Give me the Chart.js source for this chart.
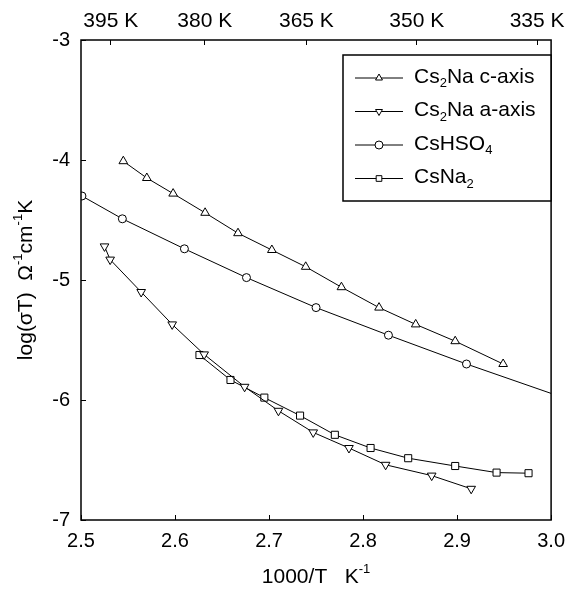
<!DOCTYPE html>
<html>
<head>
<meta charset="utf-8">
<script src="https://cdn.jsdelivr.net/npm/chart.js@4.4.0/dist/chart.umd.min.js"></script>
<style>
  html, body { margin: 0; background: #fff; }
</style>
</head>
<body>
<canvas id="chart" width="579" height="593"></canvas>
<script>
const FONT = "'Liberation Sans', Arial, Helvetica, sans-serif";

// data: x = 1000/T (K^-1), y = log(sigma T)
const cAxisX = [2.545, 2.570, 2.598, 2.632, 2.667, 2.703, 2.739, 2.777, 2.817, 2.856, 2.898, 2.949];
const cAxisY = [-4.01, -4.15, -4.28, -4.44, -4.61, -4.75, -4.89, -5.06, -5.23, -5.37, -5.51, -5.70];

const aAxisX = [2.525, 2.531, 2.564, 2.597, 2.631, 2.674, 2.710, 2.747, 2.785, 2.824, 2.873, 2.915];
const aAxisY = [-4.72, -4.83, -5.10, -5.37, -5.62, -5.89, -6.09, -6.27, -6.40, -6.54, -6.63, -6.74];

const hso4X = [2.501, 2.544, 2.610, 2.676, 2.750, 2.827, 2.910, 3.000];
const hso4Y = [-4.30, -4.49, -4.74, -4.98, -5.23, -5.46, -5.70, -5.945];

const csna2X = [2.626, 2.659, 2.695, 2.733, 2.770, 2.808, 2.848, 2.898, 2.942, 2.976];
const csna2Y = [-5.625, -5.833, -5.98, -6.13, -6.29, -6.40, -6.485, -6.55, -6.605, -6.61];

const seriesLabels = ["Cs_{2}Na c-axis", "Cs_{2}Na a-axis", "CsHSO_{4}", "CsNa_{2}"];
const bottomTicks = [2.5, 2.6, 2.7, 2.8, 2.9, 3.0];
const topTempsK = [395, 380, 365, 350, 335];
const yTicks = [-7, -6, -5, -4, -3];
const xTitle = "1000/T   K^{-1}";
const yTitle = "log(\u03C3T)  \u03A9^{-1}cm^{-1}K";

const pts = (xs, ys) => xs.map((x, i) => ({ x, y: ys[i] }));

// text with _{sub} and ^{sup} parts
function parseRich(s) {
  const parts = [];
  const re = /([_^])\{([^}]*)\}/g;
  let last = 0, m;
  while ((m = re.exec(s))) {
    if (m.index > last) parts.push({ t: s.slice(last, m.index), k: "" });
    parts.push({ t: m[2], k: m[1] });
    last = re.lastIndex;
  }
  if (last < s.length) parts.push({ t: s.slice(last), k: "" });
  return parts;
}

function drawRich(ctx, s, x, y, size, align) {
  const parts = parseRich(s);
  const small = Math.round(size * 0.62);
  const widths = parts.map(p => {
    ctx.font = (p.k ? small : size) + "px " + FONT;
    return ctx.measureText(p.t).width;
  });
  const total = widths.reduce((a, b) => a + b, 0);
  let cx = align === "center" ? x - total / 2 : x;
  ctx.textAlign = "left";
  ctx.textBaseline = "middle";
  ctx.fillStyle = "#000";
  parts.forEach((p, i) => {
    ctx.font = (p.k ? small : size) + "px " + FONT;
    const dy = p.k === "_" ? size * 0.32 : p.k === "^" ? -size * 0.36 : 0;
    ctx.fillText(p.t, cx, y + dy);
    cx += widths[i];
  });
}

const extras = {
  id: "extras",
  afterDraw(chart) {
    const { ctx, chartArea: a } = chart;
    ctx.save();

    // frame
    ctx.strokeStyle = "#000";
    ctx.lineWidth = 1.5;
    ctx.strokeRect(a.left, a.top, a.right - a.left, a.bottom - a.top);

    // axis titles
    drawRich(ctx, xTitle, (a.left + a.right) / 2, 577, 21, "center");
    ctx.save();
    ctx.translate(26, (a.top + a.bottom) / 2);
    ctx.rotate(-Math.PI / 2);
    drawRich(ctx, yTitle, 0, 0, 21, "center");
    ctx.restore();

    // legend box
    const L = { left: 343, top: 55, right: 551, bottom: 201 };
    ctx.fillStyle = "#fff";
    ctx.fillRect(L.left, L.top, L.right - L.left, L.bottom - L.top);
    ctx.lineWidth = 1.5;
    ctx.strokeStyle = "#000";
    ctx.strokeRect(L.left, L.top, L.right - L.left, L.bottom - L.top);

    chart.data.datasets.forEach((ds, i) => {
      const y = 78 + i * 33.5;
      ctx.lineWidth = 1;
      ctx.strokeStyle = "#000";
      ctx.beginPath();
      ctx.moveTo(355, y);
      ctx.lineTo(403, y);
      ctx.stroke();
      ctx.fillStyle = "#fff";
      Chart.helpers.drawPoint(ctx, {
        pointStyle: ds.pointStyle,
        rotation: ds.pointRotation || 0,
        radius: 4,
        borderWidth: 1
      }, 379, y);
      drawRich(ctx, ds.label, 414, y - 1, 21, "left");
    });
    ctx.restore();
  }
};

const lineDs = (label, data, style, rotation, radius) => ({
  label,
  data,
  showLine: true,
  borderColor: "#000",
  borderWidth: 1,
  tension: 0,
  pointStyle: style,
  pointRotation: rotation,
  pointRadius: radius,
  pointBackgroundColor: "#fff",
  pointBorderColor: "#000",
  pointBorderWidth: 1
});

new Chart(document.getElementById("chart"), {
  type: "scatter",
  data: {
    datasets: [
      lineDs(seriesLabels[0], pts(cAxisX, cAxisY), "triangle", 0, 5),
      lineDs(seriesLabels[1], pts(aAxisX, aAxisY), "triangle", 180, 5),
      lineDs(seriesLabels[2], pts(hso4X, hso4Y), "circle", 0, hso4X.map((x, i) => i === hso4X.length - 1 ? 0 : 4)),
      lineDs(seriesLabels[3], pts(csna2X, csna2Y), "rect", 0, 5)
    ]
  },
  options: {
    responsive: false,
    devicePixelRatio: 1,
    animation: false,
    layout: { padding: { left: 0, right: 16, top: 0, bottom: 0 } },
    plugins: { legend: { display: false }, tooltip: { enabled: false } },
    scales: {
      x: {
        type: "linear",
        position: "bottom",
        min: 2.5,
        max: 3.0,
        afterBuildTicks: s => { s.ticks = bottomTicks.map(v => ({ value: v })); },
        afterFit: s => { s.height = 73; },
        ticks: {
          callback: v => v.toFixed(1),
          color: "#000",
          font: { family: FONT, size: 20 },
          padding: 14,
          maxRotation: 0,
          autoSkip: false
        },
        grid: { drawOnChartArea: false, tickLength: -5, color: "#000", lineWidth: 1 },
        border: { display: false }
      },
      xTop: {
        type: "linear",
        position: "top",
        min: 2.5,
        max: 3.0,
        afterBuildTicks: s => { s.ticks = topTempsK.map(t => ({ value: 1000 / t })); },
        afterFit: s => { s.height = 40; },
        ticks: {
          callback: v => Math.round(1000 / v) + " K",
          color: "#000",
          font: { family: FONT, size: 21 },
          padding: 11,
          maxRotation: 0,
          autoSkip: false
        },
        grid: { drawOnChartArea: false, tickLength: -5, color: "#000", lineWidth: 1 },
        border: { display: false }
      },
      y: {
        type: "linear",
        position: "left",
        min: -7,
        max: -3,
        afterBuildTicks: s => { s.ticks = yTicks.map(v => ({ value: v })); },
        afterFit: s => { s.width = 81; },
        ticks: {
          callback: v => String(v),
          color: "#000",
          font: { family: FONT, size: 20 },
          padding: 16
        },
        grid: { drawOnChartArea: false, tickLength: -5, color: "#000", lineWidth: 1 },
        border: { display: false }
      }
    }
  },
  plugins: [extras]
});
</script>
</body>
</html>
